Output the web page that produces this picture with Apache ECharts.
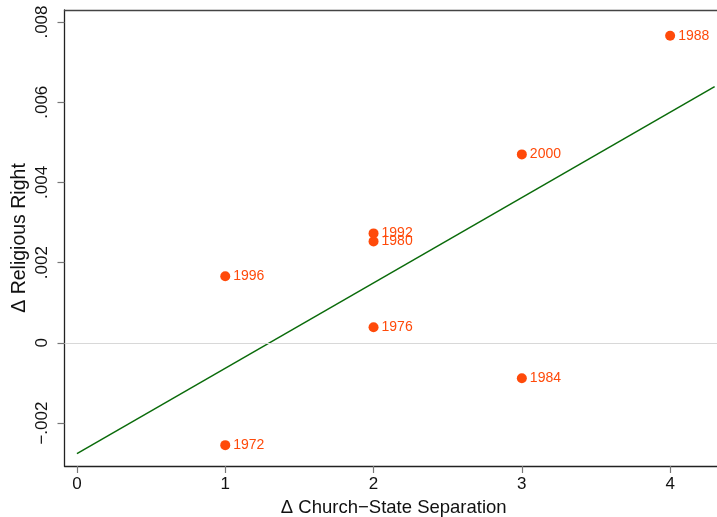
<!DOCTYPE html>
<html><head><meta charset="utf-8">
<script src="https://cdn.jsdelivr.net/npm/echarts@6/dist/echarts.min.js"></script>
<style>html,body{margin:0;padding:0;background:#fff}#c{width:717px;height:517px}</style>
</head><body><div id="c"></div>
<script>
const years = ['1972','1976','1980','1984','1988','1992','1996','2000'];
const churchState = [1, 2, 2, 3, 4, 2, 1, 3];
const religiousRight = [-0.00255, 0.00039, 0.00253, -0.00088, 0.00766, 0.00273, 0.00166, 0.0047];
const fitX = [0, 4.30];
const fitY = [-0.00276, 0.00639];
const xTicks = [0, 1, 2, 3, 4];
const yTicks = [-0.002, 0, 0.002, 0.004, 0.006, 0.008];
const yTickLabels = ['\u2212.002', '0', '.002', '.004', '.006', '.008'];

const font = 'Liberation Sans, Arial, Helvetica, sans-serif';
const chart = echarts.init(document.getElementById('c'), null, {renderer: 'canvas'});
const pts = churchState.map((x, i) => ({value: [x, religiousRight[i]], name: years[i]}));
const fit = fitX.map((x, i) => [x, fitY[i]]);
const X_MIN = -0.084, X_MAX = 4.316;
chart.setOption({
  animation: false,
  grid: {left: 64.5, right: 0, top: 10, bottom: 51, show: false, containLabel: false, outerBoundsMode: 'none'},
  xAxis: [{
    type: 'value', min: X_MIN, max: X_MAX,
    name: '\u0394 Church\u2212State Separation', nameLocation: 'middle', nameGap: 32, nameMoveOverlap: false,
    nameTextStyle: {fontFamily: font, fontSize: 18.5, color: '#111', padding: [0, 0, 0, 6]},
    axisLine: {show: true, onZero: false, lineStyle: {color: '#222', width: 1.3}},
    axisTick: {show: true, length: 7, customValues: xTicks, lineStyle: {color: '#777', width: 1.2}},
    axisLabel: {customValues: xTicks, fontFamily: font, fontSize: 17, color: '#111', margin: 10},
    splitLine: {show: false}
  }, {
    type: 'value', position: 'top', min: X_MIN, max: X_MAX,
    axisLine: {show: true, onZero: false, lineStyle: {color: '#444', width: 1.3}},
    axisTick: {show: false}, axisLabel: {show: false}, splitLine: {show: false}
  }],
  yAxis: {
    type: 'value', min: -0.00307, max: 0.0083,
    name: '\u0394 Religious Right', nameLocation: 'middle', nameGap: 35, nameRotate: 90, nameMoveOverlap: false,
    nameTextStyle: {fontFamily: font, fontSize: 19.5, color: '#111'},
    axisLine: {show: true, onZero: false, lineStyle: {color: '#222', width: 1.3}},
    axisTick: {show: true, length: 7, customValues: yTicks, lineStyle: {color: '#777', width: 1.2}},
    axisLabel: {
      customValues: yTicks, rotate: 90, fontFamily: font, fontSize: 17, color: '#111', margin: 14,
      formatter: v => { const i = yTicks.findIndex(t => Math.abs(t - v) < 1e-9); return i >= 0 ? yTickLabels[i] : ''; }
    },
    splitLine: {show: false}
  },
  series: [
    {
      type: 'line', data: fit, symbol: 'none', silent: true,
      lineStyle: {color: '#0a6b0a', width: 1.5}, z: 2,
      markLine: {silent: true, symbol: ['none', 'none'], label: {show: false},
        lineStyle: {color: '#d8d8d8', width: 1.2, type: 'solid'}, data: [{yAxis: 0}]}
    },
    {
      type: 'scatter', data: pts, symbol: 'circle', symbolSize: 10, z: 3,
      itemStyle: {color: '#ff4a0a', opacity: 1},
      label: {show: true, position: 'right', distance: 3, formatter: p => p.name,
        fontFamily: font, fontSize: 14, color: '#ff4a0a'}
    }
  ]
});
</script></body></html>
